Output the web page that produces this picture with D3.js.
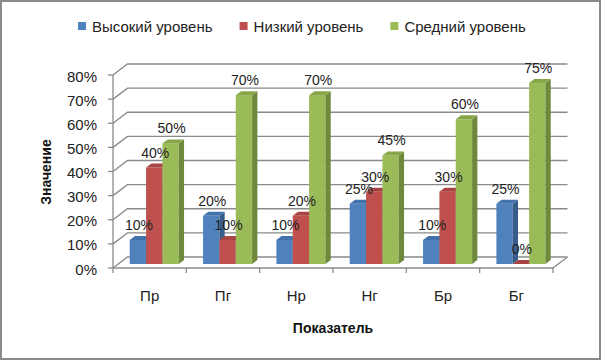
<!DOCTYPE html>
<html><head><meta charset="utf-8">
<script src="https://cdn.jsdelivr.net/npm/d3@7"></script>
<style>html,body{margin:0;padding:0;background:#fff;}svg{display:block;}</style>
</head><body>
<svg id="c" width="602" height="361"></svg>
<script>
const categories = ["Пр", "Пг", "Нр", "Нг", "Бр", "Бг"];
const seriesNames = ["Высокий уровень", "Низкий уровень", "Средний уровень"];
const highLevel = [10, 20, 10, 25, 10, 25];
const lowLevel = [40, 10, 20, 30, 30, 0];
const midLevel = [50, 70, 70, 45, 60, 75];
const yTicks = [0, 10, 20, 30, 40, 50, 60, 70, 80];
const xTitle = "Показатель";
const yTitle = "Значение";

const seriesValues = [highLevel, lowLevel, midLevel];
const colors = [
  {front: "#4F81BD", side: "#385D8A", top: "#4272AC"},
  {front: "#C0504D", side: "#8C3836", top: "#A84441"},
  {front: "#9BBB59", side: "#6E893C", top: "#86A647"}
];
const FONT = "'Liberation Sans', Arial, sans-serif";

const svg = d3.select("#c");
svg.append("rect").attr("x", 1).attr("y", 1).attr("width", 599).attr("height", 358)
  .attr("fill", "#fff").attr("stroke", "#8a8a8a").attr("stroke-width", 2);

const x = d3.scaleBand().domain(categories).range([113, 553]);
const y = d3.scaleLinear().domain([0, 80]).range([268, 75]);
const DX = 14.5, DY = -11;           // depth of the 3D box
const f0 = 4 / 11, f1 = 8 / 11;      // bar depth span
const gridColor = "#8a8a8a";

// back wall gridlines + left wall diagonals
const g = svg.append("g").attr("fill", "none").attr("stroke", gridColor).attr("stroke-width", 1.3);
yTicks.forEach(t => {
  const yy = y(t);
  g.append("polyline").attr("points",
    `${x.range()[0]},${yy} ${x.range()[0] + DX},${yy + DY} ${x.range()[1] + DX},${yy + DY}`);
});
// floor front edge & right diagonal
g.append("polyline").attr("points",
  `${x.range()[0]},${y(0)} ${x.range()[1]},${y(0)} ${x.range()[1] + DX},${y(0) + DY}`);
// vertical axis line
g.append("line").attr("x1", x.range()[0]).attr("x2", x.range()[0]).attr("y1", y(80)).attr("y2", y(0));
// y ticks
yTicks.forEach(t => {
  g.append("line").attr("x1", x.range()[0] - 5).attr("x2", x.range()[0]).attr("y1", y(t)).attr("y2", y(t));
});
// x ticks
const xEdges = categories.map(c => x(c)).concat([x.range()[1]]);
xEdges.forEach(xx => {
  g.append("line").attr("x1", xx).attr("x2", xx).attr("y1", y(0)).attr("y2", y(0) + 5);
});

// y tick labels
svg.append("g").selectAll("text").data(yTicks).join("text")
  .attr("x", 97).attr("y", d => y(d) + 1)
  .attr("text-anchor", "end").attr("dominant-baseline", "central")
  .attr("font-family", FONT).attr("font-size", 15).attr("fill", "#222")
  .text(d => d + "%");

// category labels
svg.append("g").selectAll("text").data(categories).join("text")
  .attr("x", d => x(d) + x.bandwidth() / 2).attr("y", 295)
  .attr("text-anchor", "middle").attr("dominant-baseline", "central")
  .attr("font-family", FONT).attr("font-size", 15).attr("fill", "#222")
  .text(d => d);

// axis titles
svg.append("text").attr("x", 333).attr("y", 328)
  .attr("text-anchor", "middle").attr("dominant-baseline", "central")
  .attr("font-family", FONT).attr("font-size", 14).attr("font-weight", "bold").attr("fill", "#111")
  .text(xTitle);
svg.append("text").attr("transform", "translate(46,172) rotate(-90)")
  .attr("text-anchor", "middle").attr("dominant-baseline", "central")
  .attr("font-family", FONT).attr("font-size", 14).attr("font-weight", "bold").attr("fill", "#111")
  .text(yTitle);

// bars
const bw = x.bandwidth() * 0.223;
const off = x.bandwidth() * 0.228;
const sdx = DX * (f1 - f0), sdy = DY * (f1 - f0);
const barsG = svg.append("g");
const labels = [];
categories.forEach((cat, ci) => {
  seriesValues.forEach((vals, si) => {
    const v = vals[ci];
    const bx = x(cat) + off + si * bw;
    const yt = y(v) + DY * f0;
    const yb = y(0) + DY * f0;
    const c = colors[si];
    barsG.append("rect").attr("x", bx).attr("y", yt).attr("width", bw).attr("height", yb - yt)
      .attr("fill", c.front);
    barsG.append("polygon").attr("points",
      `${bx + bw},${yt} ${bx + bw + sdx},${yt + sdy} ${bx + bw + sdx},${yb + sdy} ${bx + bw},${yb}`)
      .attr("fill", c.side);
    barsG.append("polygon").attr("points",
      `${bx},${yt} ${bx + bw},${yt} ${bx + bw + sdx},${yt + sdy} ${bx + sdx},${yt + sdy}`)
      .attr("fill", c.top);
    labels.push({x: bx + bw / 2 + 1, y: yt - 10, t: v + "%"});
  });
});
svg.append("g").selectAll("text").data(labels).join("text")
  .attr("x", d => d.x).attr("y", d => d.y)
  .attr("text-anchor", "middle")
  .attr("font-family", FONT).attr("font-size", 14).attr("fill", "#222")
  .text(d => d.t);

// legend
const leg = svg.append("g");
let lx = 78;
seriesNames.forEach((name, i) => {
  leg.append("rect").attr("x", lx).attr("y", 22).attr("width", 8).attr("height", 8).attr("fill", colors[i].front);
  const t = leg.append("text").attr("x", lx + 14).attr("y", 26)
    .attr("dominant-baseline", "central")
    .attr("font-family", FONT).attr("font-size", 15).attr("fill", "#222")
    .text(name);
  lx += 14 + t.node().getComputedTextLength() + 27;
});
</script>
</body></html>
